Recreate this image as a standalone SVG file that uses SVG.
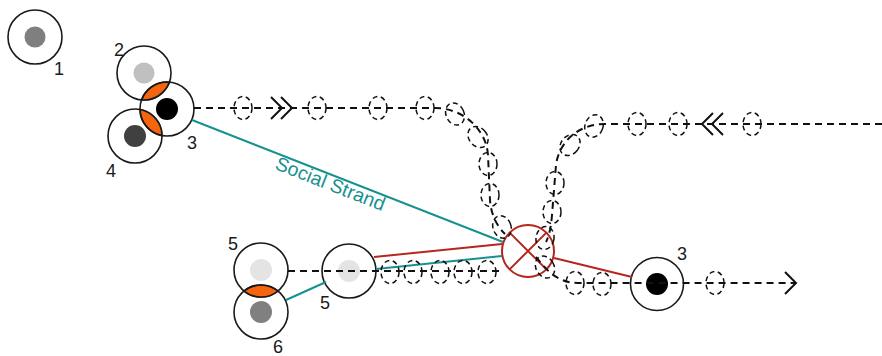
<svg xmlns="http://www.w3.org/2000/svg" width="882" height="356" viewBox="0 0 882 356">
  <style>
    .ring { fill: none; stroke: #1a1a1a; stroke-width: 1.6; }
    .lens { fill: #f5650f; stroke: #1a1a1a; stroke-width: 1.6; }
    .lbl { font-family: "Liberation Sans", Arial, sans-serif; font-size: 18px; fill: #1a1a1a; text-anchor: middle; }
    .trail { fill: none; stroke: #111; stroke-width: 2; stroke-dasharray: 7 5; }
    .bead { fill: none; stroke: #111; stroke-width: 1.5; stroke-dasharray: 5 3.5; }
    .chev { fill: none; stroke: #111; stroke-width: 2; }
    .teal { stroke: #17918f; stroke-width: 2; fill: none; }
    .red { stroke: #b5261e; stroke-width: 2; fill: none; }
  </style>
  <defs>
    <ellipse id="bead" cx="0" cy="0" rx="9" ry="11.5" class="bead"/>
  </defs>
  <rect width="882" height="356" fill="#ffffff"/>

  <!-- people -->
  <g id="node-1">
    <circle cx="35" cy="37" r="27" class="ring"/>
    <circle cx="35" cy="37" r="10.5" fill="#7f7f7f"/>
    <text x="59" y="75" class="lbl">1</text>
  </g>
  <g id="node-2">
    <circle cx="144" cy="73" r="27" class="ring"/>
    <circle cx="144" cy="73" r="10.5" fill="#c0c0c0"/>
    <text x="119" y="56" class="lbl">2</text>
  </g>
  <g id="node-4">
    <circle cx="135" cy="136" r="27" class="ring"/>
    <circle cx="135" cy="136" r="11" fill="#404040"/>
    <text x="111" y="177" class="lbl">4</text>
  </g>
  <g id="node-3">
    <path class="lens" d="M141.6,99.9 A27,27 0 0 0 169.4,82.1 A27,27 0 0 0 141.6,99.9 Z"/>
    <path class="lens" d="M140,109.5 A27,27 0 0 0 162,135.5 A27,27 0 0 0 140,109.5 Z"/>
    <circle cx="167" cy="109" r="27" class="ring"/>
    <circle cx="167" cy="109" r="11" fill="#000"/>
    <text x="192" y="149" class="lbl">3</text>
  </g>
  <g id="node-5a">
    <circle cx="261" cy="270" r="27" class="ring"/>
    <circle cx="261" cy="270" r="11" fill="#e4e4e4"/>
    <text x="233" y="250" class="lbl">5</text>
  </g>
  <g id="node-6">
    <path class="lens" d="M244,291 A27,27 0 0 0 278,291 A27,27 0 0 0 244,291 Z"/>
    <circle cx="261" cy="312" r="27" class="ring"/>
    <circle cx="261" cy="312" r="11" fill="#808080"/>
    <text x="278" y="353" class="lbl">6</text>
  </g>
  <g id="node-5b">
    <circle cx="349" cy="271" r="27" class="ring"/>
    <circle cx="349" cy="271" r="11" fill="#e4e4e4"/>
    <text x="325" y="309" class="lbl">5</text>
  </g>
  <g id="node-3b">
    <circle cx="657" cy="284" r="26.5" class="ring"/>
    <circle cx="657" cy="284" r="11" fill="#000"/>
    <text x="682" y="260" class="lbl">3</text>
  </g>
  <g id="crossing">
    <circle cx="528" cy="251" r="26" fill="none" stroke="#b5261e" stroke-width="2"/>
    <path class="red" d="M509.6,232.6 L546.4,269.4 M546.4,232.6 L509.6,269.4"/>
  </g>

  <!-- connectors -->
  <g id="connectors">
    <!-- social strands -->
    <line x1="192" y1="120" x2="503" y2="242" class="teal"/>
    <line x1="286" y1="300" x2="326" y2="282" class="teal"/>
    <line x1="376" y1="269" x2="502" y2="256" class="teal"/>
    <line x1="374" y1="257" x2="502" y2="244" class="red"/>
    <line x1="554" y1="258" x2="632" y2="277" class="red"/>
    <text transform="translate(328,190) rotate(21.4)" x="0" y="0" font-family="Liberation Sans, Arial, sans-serif" font-size="19.5" fill="#17918f" text-anchor="middle">Social Strand</text>

    <!-- trails -->
    <path class="trail" d="M194,108 L435,108 C462,108 486,128 488,155 L490,200 C491,215 497,226 505,234"/>
    <path class="trail" d="M882,124 L605,124 C578,124 559,142 556,165 L552,215 C551,228 549,236 546,242"/>
    <path class="trail" d="M288,271 L502,271"/>
    <path class="trail" d="M536,257 C545,268 556,283 578,283 L795,283"/>

    <!-- direction marks -->
    <polyline class="chev" points="271,97 282,108 271,119"/>
    <polyline class="chev" points="281,97 292,108 281,119"/>
    <polyline class="chev" points="713,113 702,124 713,135"/>
    <polyline class="chev" points="723,113 712,124 723,135"/>
    <polyline class="chev" points="785,272 796,283 785,294"/>

    <!-- beads along the trails -->
    <use href="#bead" transform="translate(243,108)"/>
    <use href="#bead" transform="translate(317,108)"/>
    <use href="#bead" transform="translate(378,108)"/>
    <use href="#bead" transform="translate(425,108)"/>
    <use href="#bead" transform="translate(455,114) rotate(-25)"/>
    <use href="#bead" transform="translate(478,137) rotate(-40)"/>
    <use href="#bead" transform="translate(488,164)"/>
    <use href="#bead" transform="translate(490,195)"/>
    <use href="#bead" transform="translate(502,227) rotate(-20)"/>

    <use href="#bead" transform="translate(752,124)"/>
    <use href="#bead" transform="translate(678,124)"/>
    <use href="#bead" transform="translate(637,124)"/>
    <use href="#bead" transform="translate(594,126) rotate(20)"/>
    <use href="#bead" transform="translate(570,145) rotate(40)"/>
    <use href="#bead" transform="translate(555,183)"/>
    <use href="#bead" transform="translate(552,212)"/>
    <use href="#bead" transform="translate(545,238) rotate(10)"/>

    <use href="#bead" transform="translate(390,272)"/>
    <use href="#bead" transform="translate(413,272)"/>
    <use href="#bead" transform="translate(440,272)"/>
    <use href="#bead" transform="translate(463,272)"/>
    <use href="#bead" transform="translate(487,272)"/>

    <use href="#bead" transform="translate(545,267) rotate(-30)"/>
    <use href="#bead" transform="translate(575,283)"/>
    <use href="#bead" transform="translate(602,284)"/>
    <use href="#bead" transform="translate(715,283)"/>
  </g>
</svg>
